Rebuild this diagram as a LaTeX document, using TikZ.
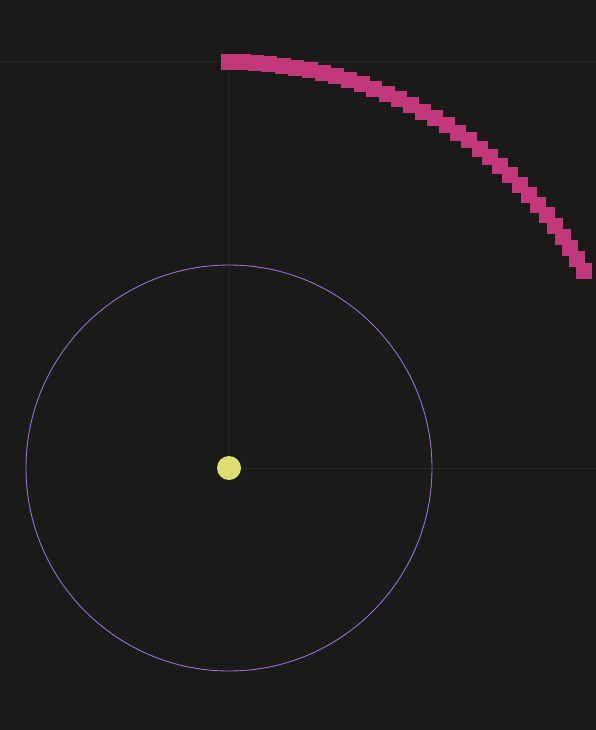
\documentclass[tikz,border=0pt]{standalone}
\definecolor{bg}{HTML}{1A1A18}
\definecolor{gridc}{HTML}{272725}
\definecolor{ringc}{HTML}{9A70D8}
\definecolor{arcc}{HTML}{C2387A}
\definecolor{dotc}{HTML}{DEDE70}
\begin{document}
\begin{tikzpicture}[x=1pt,y=-1pt,
  gridline/.style={draw=gridc,line width=1pt},
  ring/.style={draw=ringc,line width=0.9pt},
  blockc/.style={fill=arcc}]
\fill[bg] (0,0) rectangle (596,730);
\useasboundingbox (0,0) rectangle (596,730);
\coordinate (c) at (229,468);
\draw[gridline] (0,62) -- (596,62);
\draw[gridline] (229,62) -- (c);
\draw[gridline] (c) -- (596,468);
\draw[ring] (c) circle[radius=203];
\foreach \i in {0,...,32}{
  \pgfmathsetmacro{\a}{90-\i*61/32}
  \pgfmathsetmacro{\px}{229+406*cos(\a)}
  \pgfmathsetmacro{\py}{468-406*sin(\a)}
  \fill[blockc] (\px-8,\py-8) rectangle (\px+8,\py+8);
}
\node[circle,fill=dotc,inner sep=0pt,minimum size=24pt] (dot) at (c) {};
\end{tikzpicture}
\end{document}
